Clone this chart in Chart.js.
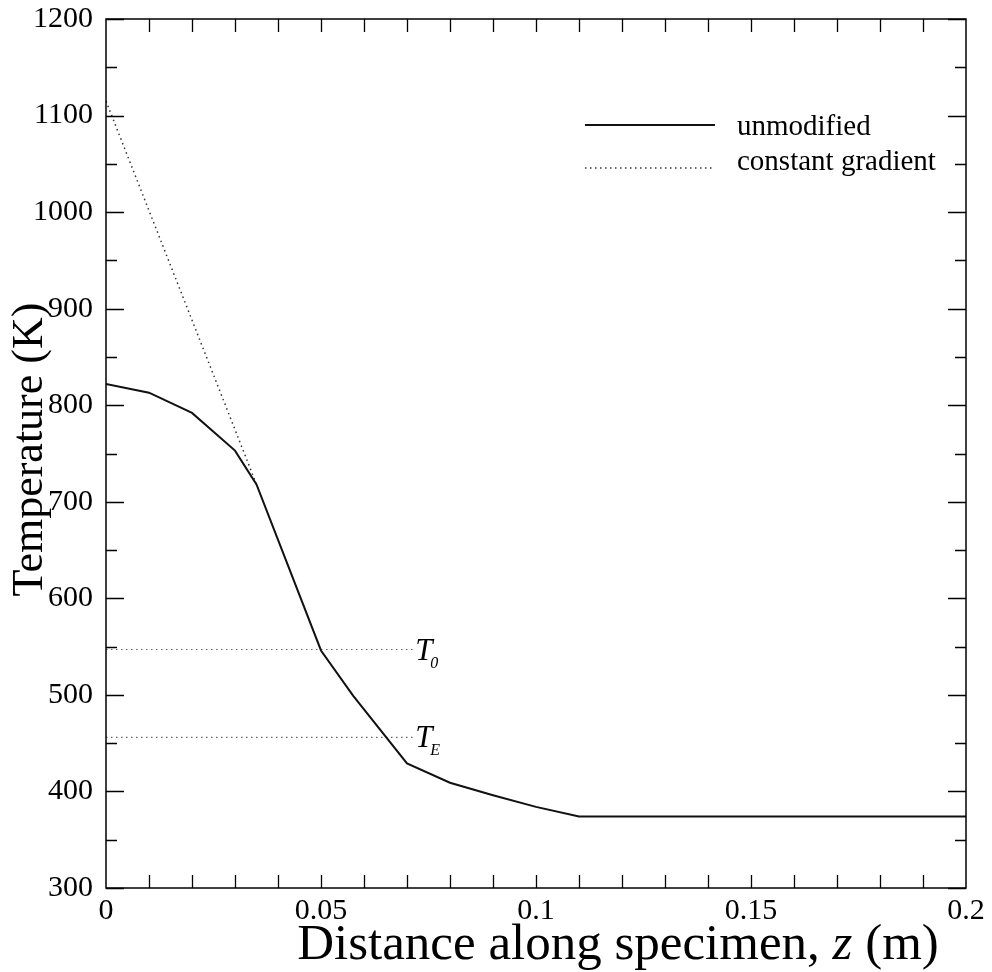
<!DOCTYPE html>
<html>
<head>
<meta charset="utf-8">
<script src="https://cdn.jsdelivr.net/npm/chart.js@4/dist/chart.umd.min.js"></script>
<style>
  html, body { margin: 0; padding: 0; background: #fff; }
</style>
</head>
<body>
<canvas id="chart" width="992" height="972"></canvas>
<script>
// unmodified temperature profile (z in m, T in K)
const zUnmod = [0, 0.01, 0.02, 0.03, 0.035, 0.05, 0.0575, 0.07, 0.08, 0.09, 0.1, 0.11, 0.2];
const tUnmod = [822, 813, 792, 753, 718, 546, 499, 429, 409, 396, 384, 374, 374];

// constant gradient extrapolation near the hot end
const zGrad = [0, 0.035];
const tGrad = [1115, 718];

// reference temperatures T0 and TE
const refSubs = ['0', 'E'];
const refTemps = [547, 456];
const refEnd = 0.0717;

const xTicks = [0, 0.05, 0.1, 0.15, 0.2];
const yTicks = [300, 400, 500, 600, 700, 800, 900, 1000, 1100, 1200];

const serif = 'Liberation Serif';

const datasets = [
  {
    label: 'unmodified',
    data: zUnmod.map((z, i) => ({ x: z, y: tUnmod[i] })),
    borderColor: '#111',
    borderWidth: 2,
  },
  {
    label: 'constant gradient',
    data: zGrad.map((z, i) => ({ x: z, y: tGrad[i] })),
    borderColor: '#333',
    borderWidth: 1.5,
    borderDash: [1.5, 3.5],
  },
];
refTemps.forEach((t, i) => {
  datasets.push({
    label: 'T' + refSubs[i],
    data: [{ x: 0, y: t }, { x: refEnd, y: t }],
    borderColor: '#666',
    borderWidth: 1.2,
    borderDash: [1.5, 3.5],
  });
});

const frame = {
  id: 'frame',
  afterDraw(chart) {
    const { ctx, chartArea: a, scales: { x, y } } = chart;
    ctx.save();
    ctx.strokeStyle = '#000';
    ctx.lineWidth = 1.5;
    ctx.strokeRect(a.left, a.top, a.right - a.left, a.bottom - a.top);

    // inward ticks on all four sides
    ctx.lineWidth = 1.3;
    ctx.beginPath();
    for (let v = 300; v <= 1200; v += 50) {
      const py = Math.round(y.getPixelForValue(v)) + 0.5;
      const len = v % 100 === 0 ? 18 : 11;
      ctx.moveTo(a.left, py); ctx.lineTo(a.left + len, py);
      ctx.moveTo(a.right, py); ctx.lineTo(a.right - len, py);
    }
    for (let i = 1; i < 20; i++) {
      const px = Math.round(x.getPixelForValue(i / 100)) + 0.5;
      ctx.moveTo(px, a.top); ctx.lineTo(px, a.top + 13);
      ctx.moveTo(px, a.bottom); ctx.lineTo(px, a.bottom - 13);
    }
    ctx.stroke();

    // legend
    ctx.fillStyle = '#000';
    ctx.font = '29px "' + serif + '"';
    ctx.textBaseline = 'alphabetic';
    ctx.textAlign = 'left';
    ctx.strokeStyle = '#111';
    ctx.lineWidth = 2;
    ctx.beginPath(); ctx.moveTo(585, 125); ctx.lineTo(715, 125); ctx.stroke();
    ctx.fillText('unmodified', 737, 135);
    ctx.strokeStyle = '#333';
    ctx.lineWidth = 1.5;
    ctx.setLineDash([1.5, 3.5]);
    ctx.beginPath(); ctx.moveTo(585, 168); ctx.lineTo(715, 168); ctx.stroke();
    ctx.setLineDash([]);
    ctx.fillText('constant gradient', 737, 170);

    // T0 / TE labels
    refTemps.forEach((t, i) => {
      const px = x.getPixelForValue(refEnd) + 1;
      const py = y.getPixelForValue(t) + 10;
      ctx.font = 'italic 31px "' + serif + '"';
      ctx.fillText('T', px, py);
      ctx.font = 'italic 16px "' + serif + '"';
      ctx.fillText(refSubs[i], px + 15, py + 8);
    });

    // axis titles
    ctx.font = '44px "' + serif + '"';
    ctx.save();
    ctx.translate(42, (a.top + a.bottom) / 2 - 4);
    ctx.rotate(-Math.PI / 2);
    ctx.textAlign = 'center';
    ctx.fillText('Temperature (K)', 0, 0);
    ctx.restore();

    const parts = [
      ['Distance along specimen, ', ''],
      ['z', 'italic '],
      [' (m)', ''],
    ];
    let total = 0;
    parts.forEach(p => { ctx.font = p[1] + '51px "' + serif + '"'; total += ctx.measureText(p[0]).width; });
    let cx = 618 - total / 2;
    parts.forEach(p => {
      ctx.font = p[1] + '51px "' + serif + '"';
      ctx.fillText(p[0], cx, 959);
      cx += ctx.measureText(p[0]).width;
    });
    ctx.restore();
  }
};

new Chart(document.getElementById('chart').getContext('2d'), {
  type: 'line',
  data: { datasets },
  options: {
    responsive: false,
    animation: false,
    layout: { padding: { top: 0, right: 26, left: 0, bottom: 0 } },
    elements: { point: { radius: 0 }, line: { tension: 0, fill: false } },
    plugins: { legend: { display: false }, tooltip: { enabled: false } },
    scales: {
      x: {
        type: 'linear',
        min: 0,
        max: 0.2,
        afterFit: s => { s.height = 84; },
        afterBuildTicks: s => { s.ticks = xTicks.map(v => ({ value: v })); },
        grid: { display: false, drawTicks: false },
        border: { display: false },
        ticks: {
          padding: 5,
          color: '#000',
          maxRotation: 0,
          autoSkip: false,
          font: { family: serif, size: 30 },
          callback: v => String(+v.toFixed(2)),
        },
      },
      y: {
        type: 'linear',
        min: 300,
        max: 1200,
        afterFit: s => { s.width = 106; s.paddingTop = 19; },
        afterBuildTicks: s => { s.ticks = yTicks.map(v => ({ value: v })); },
        grid: { display: false, drawTicks: false },
        border: { display: false },
        ticks: {
          padding: 13,
          color: '#000',
          autoSkip: false,
          font: { family: serif, size: 30 },
          callback: v => String(v),
        },
      },
    },
  },
  plugins: [frame],
});
</script>
</body>
</html>
